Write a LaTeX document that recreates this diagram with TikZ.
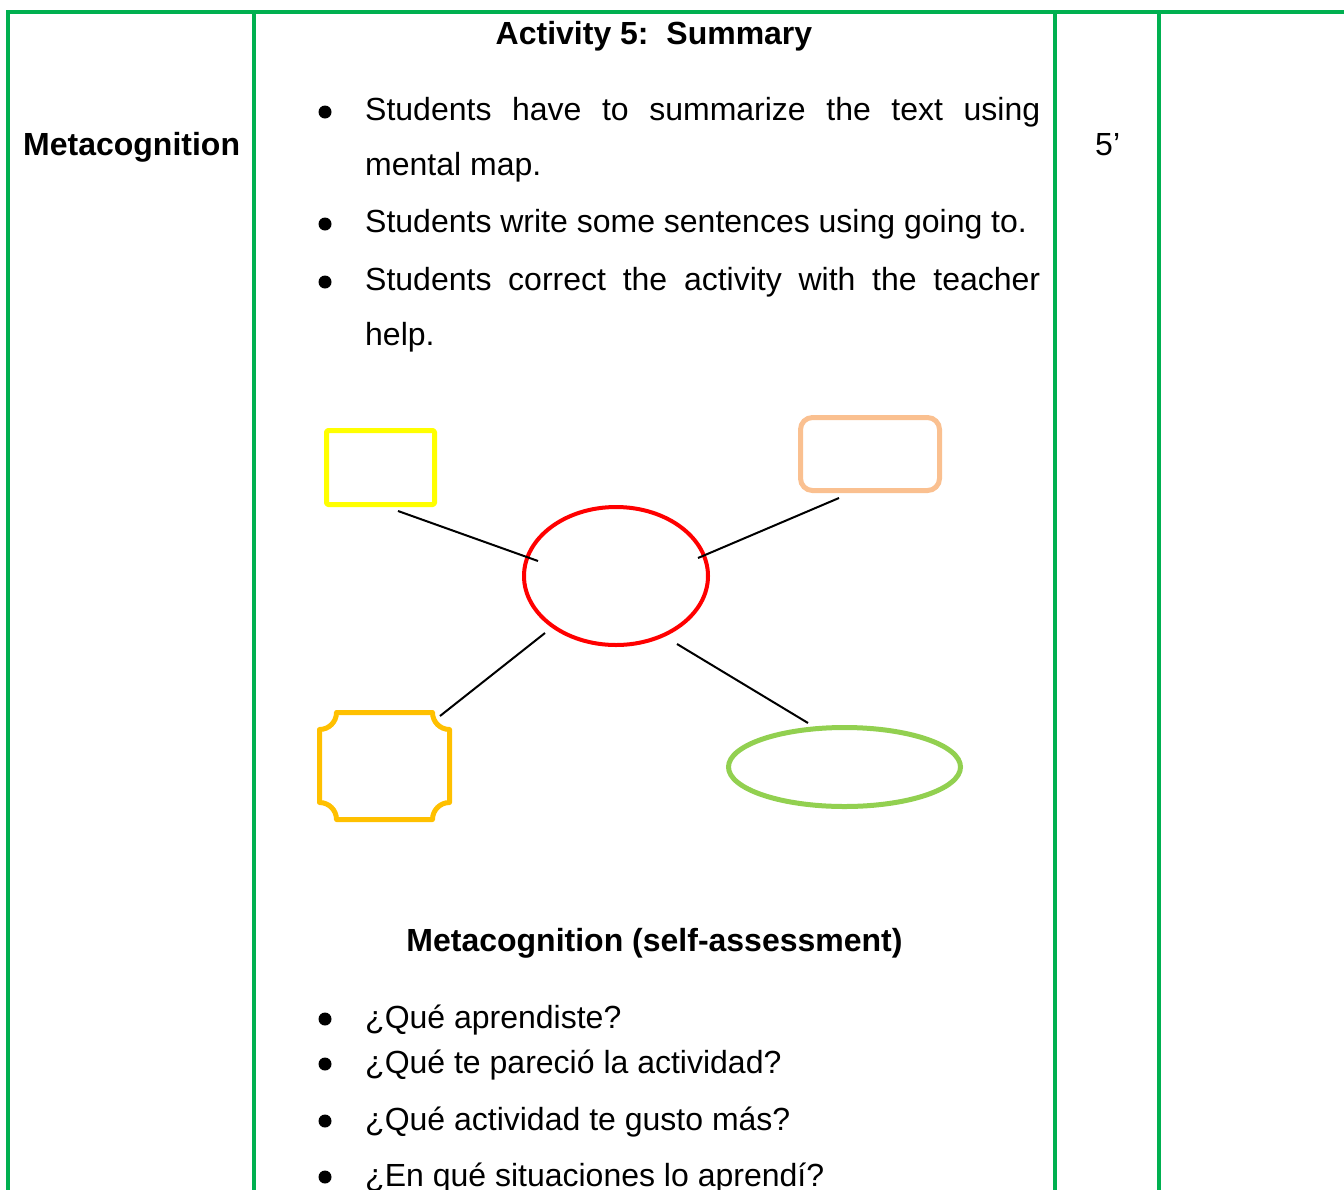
\documentclass[tikz,border=0pt]{standalone}
\usepackage{fontspec}
\setmainfont{Liberation Sans}
\usetikzlibrary{shapes.geometric}
\definecolor{tblgreen}{HTML}{00B050}
\definecolor{mapyellow}{HTML}{FFFF00}
\definecolor{mappeach}{HTML}{FAC090}
\definecolor{mapred}{HTML}{FF0000}
\definecolor{maporange}{HTML}{FFC000}
\definecolor{mapgreen}{HTML}{92D050}
\tikzset{
  rule/.style={draw=tblgreen, line width=4pt},
  txt/.style={inner sep=0pt, anchor=base west, font=\fontsize{32}{36}\selectfont},
  boldtxt/.style={inner sep=0pt, anchor=base, font=\fontsize{32}{36}\selectfont\bfseries},
  bul/.style={circle, fill=black, inner sep=0pt, minimum size=13pt},
  link/.style={draw=black, line width=2pt},
}
\begin{document}
\begin{tikzpicture}[x=1pt,y=-1pt]
\useasboundingbox (0,0) rectangle (1344,1189);
\clip (0,0) rectangle (1344,1189);
% table rules
\coordinate (t0) at (6,12);
\coordinate (t1) at (1344,12);
\draw[rule] (t0) -- (t1);
\foreach \xx/\nm in {8/va,254/vb,1055/vc,1159/vd}{
  \coordinate (\nm top) at (\xx,10);
  \coordinate (\nm bot) at (\xx,1195);
  \draw[rule] (\nm top) -- (\nm bot);
}
% texts
\node[boldtxt] (title) at (654,44) {Activity 5:\ \ Summary};
\node[txt,font=\fontsize{32}{36}\selectfont\bfseries] (meta) at (23,155) {Metacognition};
\node[txt] (time) at (1095,155) {5’};
\node[bul] (b1) at (325,112) {};
\node[txt] (l1a) at (365,120) {\makebox[675pt][s]{Students have to summarize the text using}};
\node[txt] (l1b) at (365,175) {mental map.};
\node[bul] (b2) at (325,224) {};
\node[txt] (l2) at (365,232) {Students write some sentences using going to.};
\node[bul] (b3) at (325,282) {};
\node[txt] (l3a) at (365,290) {\makebox[675pt][s]{Students correct the activity with the teacher}};
\node[txt] (l3b) at (365,345) {help.};
% mental map
\node[draw=mapyellow, line width=5pt, line join=round, rounded corners=1.5pt, minimum width=108pt, minimum height=74pt, inner sep=0pt] (yel) at (380.5,467.5) {};
\node[draw=mappeach, line width=5pt, rounded corners=12pt, minimum width=139pt, minimum height=73pt, inner sep=0pt] (peach) at (870,454) {};
\node[ellipse, draw=mapred, line width=4pt, minimum width=184pt, minimum height=138pt, inner sep=0pt] (centre) at (616,576) {};
\node[ellipse, draw=mapgreen, line width=5pt, minimum width=232pt, minimum height=79pt, inner sep=0pt] (gell) at (844.5,767) {};
\draw[draw=maporange, line width=5pt, line join=round]
  (336.5,712.5) -- (432.5,712.5)
  .. controls (432.5,721.89) and (440.11,729.5) .. (449.5,729.5)
  -- (449.5,802.5)
  .. controls (440.11,802.5) and (432.5,810.11) .. (432.5,819.5)
  -- (336.5,819.5)
  .. controls (336.5,810.11) and (328.89,802.5) .. (319.5,802.5)
  -- (319.5,729.5)
  .. controls (328.89,729.5) and (336.5,721.89) .. (336.5,712.5)
  -- cycle;
\coordinate (c1a) at (398,511); \coordinate (c1b) at (538,561);
\coordinate (c2a) at (698,558); \coordinate (c2b) at (839,498);
\coordinate (c3a) at (545,633); \coordinate (c3b) at (440,716);
\coordinate (c4a) at (677,644); \coordinate (c4b) at (808,723);
\draw[link] (c1a) -- (c1b);
\draw[link] (c2a) -- (c2b);
\draw[link] (c3a) -- (c3b);
\draw[link] (c4a) -- (c4b);
% self-assessment
\node[boldtxt] (meta2) at (654.5,951) {Metacognition (self-assessment)};
\node[bul] (q1b) at (325,1019) {};
\node[txt] (q1) at (365,1028) {¿Qué aprendiste?};
\node[bul] (q2b) at (325,1064) {};
\node[txt] (q2) at (365,1073) {¿Qué te pareció la actividad?};
\node[bul] (q3b) at (325,1121) {};
\node[txt] (q3) at (365,1130) {¿Qué actividad te gusto más?};
\node[bul] (q4b) at (325,1177) {};
\node[txt] (q4) at (365,1186) {¿En qué situaciones lo aprendí?};
\end{tikzpicture}
\end{document}
